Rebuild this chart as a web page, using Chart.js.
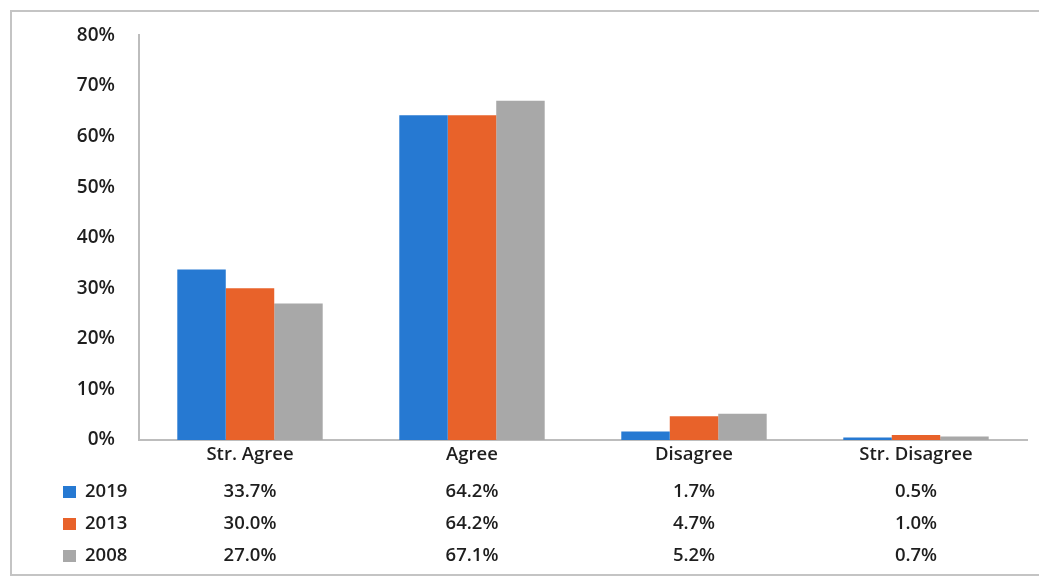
<!DOCTYPE html>
<html>
<head>
<meta charset="utf-8">
<script src="https://cdn.jsdelivr.net/npm/chart.js@4/dist/chart.umd.min.js"></script>
<style>
  html, body { margin: 0; padding: 0; background: #fff; }
  #wrap { position: relative; width: 1039px; height: 580px; }
</style>
</head>
<body>
<div id="wrap"><canvas id="myChart" width="1039" height="580"></canvas></div>
<script>
// categories and series (percent)
const categories = ["Str. Agree", "Agree", "Disagree", "Str. Disagree"];
const seriesNames = ["2019", "2013", "2008"];
const values2019 = [33.7, 64.2, 1.7, 0.5];
const values2013 = [30.0, 64.2, 4.7, 1.0];
const values2008 = [27.0, 67.1, 5.2, 0.7];
const seriesColors = ["#2679d2", "#e8622a", "#a8a8a8"];

const font = "'Open Sans', 'DejaVu Sans', sans-serif";
const textColor = "#1e1e1e";

// frame around the whole figure
const framePlugin = {
  id: "frame",
  beforeDraw(chart) {
    const ctx = chart.ctx;
    ctx.save();
    ctx.fillStyle = "#fff";
    ctx.fillRect(0, 0, chart.width, chart.height);
    ctx.strokeStyle = "#c4c4c4";
    ctx.lineWidth = 2;
    ctx.strokeRect(11, 11, chart.width + 20, chart.height - 16);
    ctx.restore();
  }
};

// data table below the x axis, columns follow the x scale
const tablePlugin = {
  id: "dataTable",
  afterDraw(chart) {
    const ctx = chart.ctx;
    const xScale = chart.scales.x;
    const rowY = [492, 524, 556];
    ctx.save();
    ctx.font = "600 18.5px " + font;
    ctx.textBaseline = "middle";
    chart.data.datasets.forEach((ds, i) => {
      const y = rowY[i];
      ctx.fillStyle = ds.backgroundColor;
      ctx.fillRect(63, y - 6, 13, 12);
      ctx.fillStyle = textColor;
      ctx.textAlign = "left";
      ctx.fillText(ds.label, 85, y);
      ctx.textAlign = "center";
      ds.data.forEach((v, j) => {
        ctx.fillText(v.toFixed(1) + "%", xScale.getPixelForValue(j), y);
      });
    });
    ctx.restore();
  }
};

const seriesValues = [values2019, values2013, values2008];

new Chart("myChart", {
  type: "bar",
  data: {
    labels: categories,
    datasets: seriesNames.map((name, i) => ({
      label: name,
      data: seriesValues[i],
      backgroundColor: seriesColors[i],
      borderWidth: 0,
      barPercentage: 1.0,
      categoryPercentage: 0.655
    }))
  },
  options: {
    responsive: false,
    animation: false,
    layout: { padding: { top: 35, right: 12, left: 0, bottom: 0 } },
    plugins: {
      legend: { display: false },
      tooltip: { enabled: false }
    },
    scales: {
      x: {
        grid: { display: false, drawTicks: false },
        border: { display: true, color: "#bdbdbd", width: 2 },
        ticks: { color: textColor, font: { family: font, size: 18.5, weight: 600 }, padding: 4 },
        afterFit(scale) { scale.height = 140; }
      },
      y: {
        min: 0,
        max: 80,
        grid: { display: false, drawTicks: false },
        border: { display: true, color: "#bdbdbd", width: 2 },
        ticks: {
          stepSize: 10,
          color: textColor,
          font: { family: font, size: 19, weight: 600 },
          padding: 24,
          callback: v => v + "%"
        },
        afterFit(scale) { scale.width = 139; }
      }
    }
  },
  plugins: [framePlugin, tablePlugin]
});
</script>
</body>
</html>
